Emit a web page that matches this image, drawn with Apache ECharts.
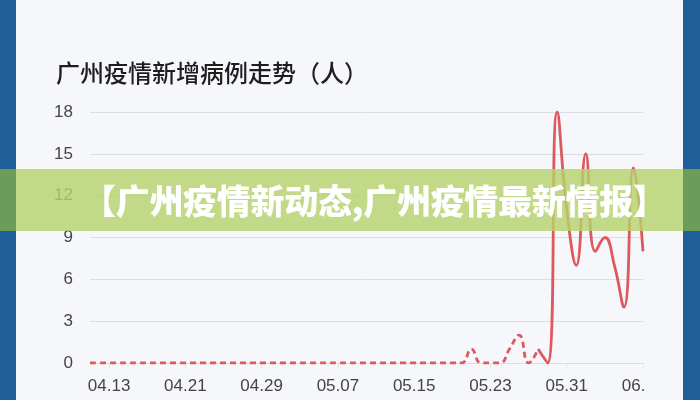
<!DOCTYPE html>
<html>
<head>
<meta charset="utf-8">
<script src="https://cdn.jsdelivr.net/npm/echarts@6/dist/echarts.min.js"></script>
<style>
  html, body { margin: 0; padding: 0; }
  body { width: 700px; height: 400px; position: relative; overflow: hidden; background: #f6f7fb; }
  #chart { position: absolute; left: 0; top: 0; width: 645px; height: 400px; }
  .strip { position: absolute; top: 0; height: 400px; background: #1f5e99; z-index: 3; }
  #banner { position: absolute; left: 0; top: 169px; width: 700px; height: 62px; background: rgba(182,210,110,0.82); z-index: 2;
    font-family: "Noto Sans CJK SC", sans-serif; font-weight: 900; font-size: 34px; color: #fff; line-height: 62px;
    box-sizing: border-box; padding-left: 82px; white-space: nowrap; letter-spacing: -0.3px; }
  .bstrip { position: absolute; top: 169px; height: 62px; background: #6b9c5a; z-index: 4; }
</style>
</head>
<body>
<div id="chart"></div>
<div id="banner">【广州疫情新动态,广州疫情最新情报】</div>
<div class="strip" style="left:0;width:16px"></div>
<div class="strip" style="left:683px;width:17px"></div>
<div class="bstrip" style="left:0;width:16px"></div>
<div class="bstrip" style="left:683px;width:17px"></div>
<script>
const titleText = '广州疫情新增病例走势（人）';
const dates = [
  '04.11','04.12','04.13','04.14','04.15','04.16','04.17','04.18','04.19','04.20',
  '04.21','04.22','04.23','04.24','04.25','04.26','04.27','04.28','04.29','04.30',
  '05.01','05.02','05.03','05.04','05.05','05.06','05.07','05.08','05.09','05.10',
  '05.11','05.12','05.13','05.14','05.15','05.16','05.17','05.18','05.19','05.20',
  '05.21','05.22','05.23','05.24','05.25','05.26','05.27','05.28','05.29','05.30',
  '05.31','06.01','06.02','06.03','06.04','06.05','06.06','06.07','06.08'
];
const cases = [
  0,0,0,0,0,0,0,0,0,0,
  0,0,0,0,0,0,0,0,0,0,
  0,0,0,0,0,0,0,0,0,0,
  0,0,0,0,0,0,0,0,0,0,
  1,0,0,0,1,2,0,1,0,18,
  11,7,15,8,9,7,4,14,8
];
const yTicks = [0, 3, 6, 9, 12, 15, 18];
const dashedEnd = 47; // last index drawn dashed

const dashedData = cases.map((v, i) => (i <= dashedEnd ? v : null));
const solidData = cases.map((v, i) => (i >= dashedEnd ? v : null));

const chart = echarts.init(document.getElementById('chart'));
const labelEvery = (idx) => (idx - 2) % 8 === 0;
chart.setOption({
  animation: false,
  title: {
    text: titleText, left: 51, top: 56,
    textStyle: { fontFamily: '"Noto Sans CJK SC", sans-serif', fontSize: 24, fontWeight: 500, color: '#1e1e1e' }
  },
  grid: { left: 90, right: 2, top: 112, bottom: 37, outerBoundsMode: 'none', containLabel: false },
  xAxis: {
    type: 'category', data: dates, boundaryGap: false,
    axisLine: { show: true, lineStyle: { color: '#dcdde3' } },
    axisTick: { show: true, interval: labelEvery, length: 5, lineStyle: { color: '#e3e4ea' } },
    axisLabel: { interval: labelEvery, margin: 15, fontSize: 17, color: '#444', fontFamily: '"Liberation Sans", Arial, sans-serif' }
  },
  yAxis: {
    type: 'value', min: yTicks[0], max: yTicks[yTicks.length - 1], interval: 3,
    axisLine: { show: false }, axisTick: { show: false },
    splitLine: { lineStyle: { color: '#dcdde3', width: 1 } },
    axisLabel: { margin: 17, fontSize: 17, color: '#444', fontFamily: '"Liberation Sans", Arial, sans-serif' }
  },
  series: [
    { type: 'line', data: dashedData, smooth: 0.5, showSymbol: false, connectNulls: false,
      lineStyle: { color: '#dc5a5e', width: 2.8, type: [6, 4] } },
    { type: 'line', data: solidData, smooth: 0.5, showSymbol: false, connectNulls: false,
      lineStyle: { color: '#dc5a5e', width: 2.8 } }
  ]
});
</script>
</body>
</html>
